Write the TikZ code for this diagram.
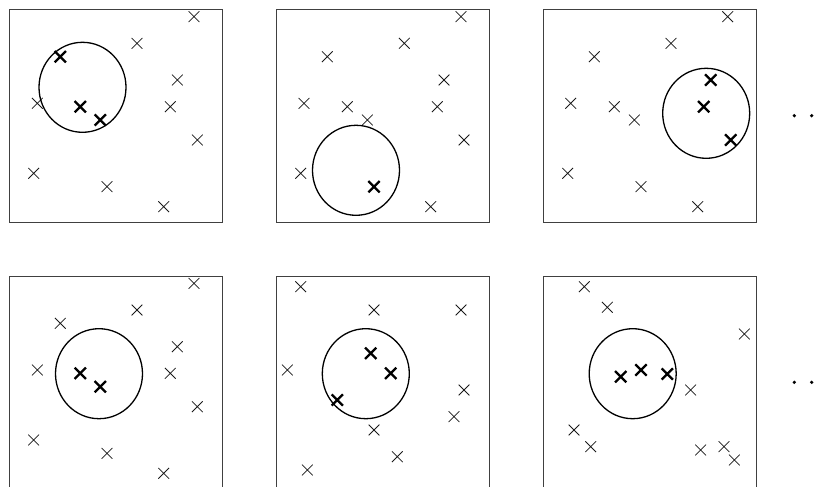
\documentclass[tikz,border=0pt]{standalone}
\usetikzlibrary{shapes.misc,shapes.geometric}
\begin{document}
\begin{tikzpicture}[x=1pt,y=-1pt,
  panel/.style={draw=black!75,line width=1pt,rectangle,minimum width=213pt,minimum height=213pt,inner sep=0pt,anchor=north west},
  pt/.style={cross out,draw=black!90,line width=0.75pt,minimum size=10pt,inner sep=0pt},
  hit/.style={cross out,draw=black,line width=2.3pt,minimum size=9pt,inner sep=0pt},
  ring/.style={ellipse,draw=black,line width=1.3pt,minimum width=87pt,minimum height=90pt,inner sep=0pt},
  dotn/.style={circle,fill=black,minimum size=3.6pt,inner sep=0pt}]
\useasboundingbox (0,0) rectangle (825,487);
% panels
\node[panel] (b1) at (9,9) {};
\node[panel] (b2) at (275.7,9) {};
\node[panel] (b3) at (542.7,9) {};
\node[panel] (b4) at (9,275.7) {};
\node[panel] (b5) at (275.7,275.7) {};
\node[panel] (b6) at (542.7,275.7) {};
% panel 1
\foreach \x/\y [count=\i] in {194/16.7,137/43.3,177.3/80,170.3/106.7,37.3/103.3,197.3/140,33.7/173.3,107/186.7,163.7/206.7}
  \node[pt] (a\i) at (\x,\y) {};
\foreach \x/\y [count=\i] in {60.3/56.7,80.3/106.7,100.3/120}
  \node[hit] (ah\i) at (\x,\y) {};
\node[ring] (c1) at (82.5,87.3) {};
% panel 2
\foreach \x/\y [count=\i] in {461/16.7,404.3/43.3,327.3/56.7,444/80,304/103.3,347.3/106.7,437.3/106.7,367.3/120,464/140,300.7/173.3,430.7/206.7}
  \node[pt] (b\i) at (\x,\y) {};
\node[hit] (bh1) at (374,186.7) {};
\node[ring] (c2) at (356,170.3) {};
% panel 3
\foreach \x/\y [count=\i] in {727.7/16.7,671/43.3,594.3/56.7,570.7/103.3,614.3/106.7,634.3/120,567.7/173.3,641/186.7,697.7/206.7}
  \node[pt] (c\i) at (\x,\y) {};
\foreach \x/\y [count=\i] in {710.7/80,703.7/106.7,730.7/140}
  \node[hit] (ch\i) at (\x,\y) {};
\node[ring] (c3) at (706.2,113.3) {};
% panel 4
\foreach \x/\y [count=\i] in {194/283.3,137/310,60.3/323.3,177.3/346.7,37.3/370,170.3/373.3,197.3/406.7,33.7/440,107/453.3,163.7/473.3}
  \node[pt] (d\i) at (\x,\y) {};
\foreach \x/\y [count=\i] in {80.3/373.3,100.3/386.7}
  \node[hit] (dh\i) at (\x,\y) {};
\node[ring] (c4) at (99,373.7) {};
% panel 5
\foreach \x/\y [count=\i] in {300.7/286.7,374/310,461/310,287.3/370,464/390,454/416.7,374/430,397.3/456.7,307.3/470}
  \node[pt] (e\i) at (\x,\y) {};
\foreach \x/\y [count=\i] in {370.7/353.3,390.7/373.3,337.3/400}
  \node[hit] (eh\i) at (\x,\y) {};
\node[ring] (c5) at (365.8,373.7) {};
% panel 6
\foreach \x/\y [count=\i] in {584.3/286.7,607.3/307.3,744.3/334,690.7/390,574/430,590.7/446.7,700.7/450,724/446.7,734.3/460}
  \node[pt] (f\i) at (\x,\y) {};
\foreach \x/\y [count=\i] in {620.7/376.7,641/370,667.3/374}
  \node[hit] (fh\i) at (\x,\y) {};
\node[ring] (c6) at (632.7,373.7) {};
% ellipsis dots
\node[dotn] (u1) at (794.3,115.7) {};
\node[dotn] (u2) at (811.7,115.7) {};
\node[dotn] (l1) at (794.3,382.3) {};
\node[dotn] (l2) at (811.7,382.3) {};
\end{tikzpicture}
\end{document}
